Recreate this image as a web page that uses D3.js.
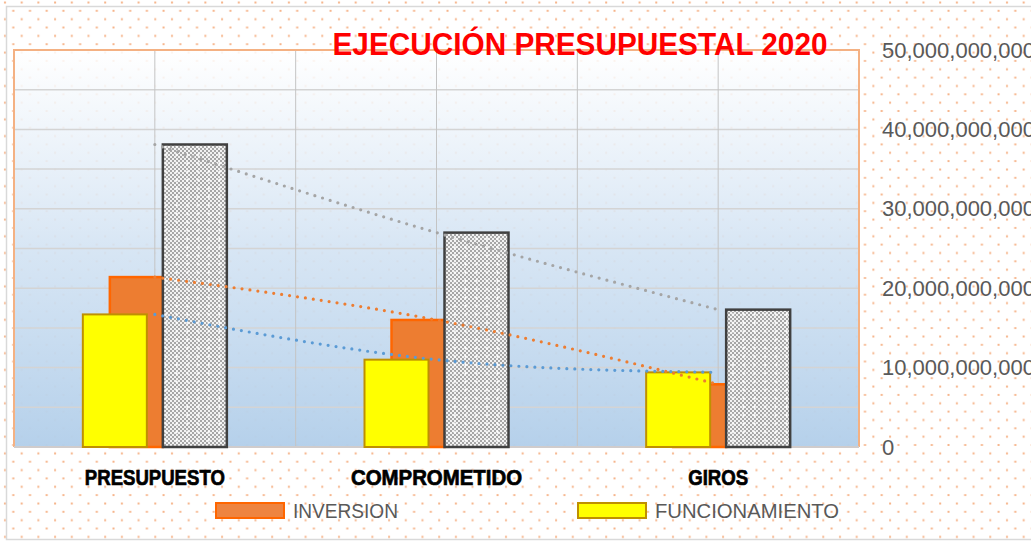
<!DOCTYPE html>
<html>
<head>
<meta charset="utf-8">
<script src="https://cdn.jsdelivr.net/npm/d3@7"></script>
<style>
body { margin: 0; background: #fff; }
svg { display: block; }
</style>
</head>
<body>
<svg width="1031" height="544"></svg>
<script>
var categories = ["PRESUPUESTO", "COMPROMETIDO", "GIROS"];
var funcionamiento = [16700000000, 11000000000, 9400000000];
var inversion = [21400000000, 16000000000, 7900000000];
var total = [38100000000, 27000000000, 17300000000];
var yTicks = [0, 10000000000, 20000000000, 30000000000, 40000000000, 50000000000];
var legendNames = ["INVERSION", "FUNCIONAMIENTO"];

var svg = d3.select("svg");
var defs = svg.append("defs");

// dotted background
var dots = defs.append("pattern").attr("id", "dots")
	.attr("patternUnits", "userSpaceOnUse")
	.attr("width", 16.7).attr("height", 16.7);
dots.append("rect").attr("x", 4).attr("y", 1.5).attr("width", 2).attr("height", 2).attr("fill", "#F6B48A");
dots.append("rect").attr("x", 12.3).attr("y", 9.8).attr("width", 2).attr("height", 2).attr("fill", "#F6B48A");

// checker for total bars
var checker = defs.append("pattern").attr("id", "checker")
	.attr("patternUnits", "userSpaceOnUse")
	.attr("width", 4).attr("height", 4);
checker.append("rect").attr("width", 4).attr("height", 4).attr("fill", "#f2f2f2");
checker.append("rect").attr("width", 2).attr("height", 2).attr("fill", "#a6a6a6");
checker.append("rect").attr("x", 2).attr("y", 2).attr("width", 2).attr("height", 2).attr("fill", "#a6a6a6");

var sparkle = defs.append("pattern").attr("id", "sparkle")
	.attr("patternUnits", "userSpaceOnUse")
	.attr("width", 10.7).attr("height", 8.4);
sparkle.append("rect").attr("x", 4).attr("y", 3.2).attr("width", 3).attr("height", 1).attr("fill", "#fff");
sparkle.append("rect").attr("x", 5).attr("y", 2.2).attr("width", 1).attr("height", 3).attr("fill", "#fff");

var grad = defs.append("linearGradient").attr("id", "plotbg")
	.attr("x1", 0).attr("y1", 0).attr("x2", 0).attr("y2", 1);
grad.append("stop").attr("offset", "0%").attr("stop-color", "#ffffff").attr("stop-opacity", 0.85);
grad.append("stop").attr("offset", "50%").attr("stop-color", "#d3e3f3").attr("stop-opacity", 0.9);
grad.append("stop").attr("offset", "100%").attr("stop-color", "#b3cfea").attr("stop-opacity", 0.97);

svg.append("rect").attr("width", 1031).attr("height", 544).attr("fill", "#fff");
svg.append("rect").attr("width", 1031).attr("height", 544).attr("fill", "url(#dots)");
svg.append("rect").attr("x", 6.5).attr("y", 6.5).attr("width", 1040).attr("height", 533)
	.attr("fill", "none").attr("stroke", "#d9d9d9").attr("stroke-width", 1.5);

var plotLeft = 14, plotRight = 859, plotTop = 50, plotBottom = 447;

var x = d3.scaleBand().domain(categories).range([plotLeft, plotRight]).padding(0);
var y = d3.scaleLinear().domain([0, 50000000000]).range([plotBottom, plotTop]);

svg.append("rect").attr("x", plotLeft).attr("y", plotTop)
	.attr("width", plotRight - plotLeft).attr("height", plotBottom - plotTop)
	.attr("fill", "url(#plotbg)");

// gridlines
var minor = d3.range(0, 50000000001, 5000000000);
svg.append("g").selectAll("line").data(minor).enter().append("line")
	.attr("x1", plotLeft).attr("x2", plotRight)
	.attr("y1", function(d){return y(d);}).attr("y2", function(d){return y(d);})
	.attr("stroke", "#d4d4d4").attr("stroke-width", 1.5);

var vLines = [];
categories.forEach(function(c){
	vLines.push(x(c));
	vLines.push(x(c) + x.bandwidth() / 2);
});
vLines.push(plotRight);
svg.append("g").selectAll("line").data(vLines).enter().append("line")
	.attr("x1", function(d){return d;}).attr("x2", function(d){return d;})
	.attr("y1", plotTop).attr("y2", plotBottom)
	.attr("stroke", "#c4c4c4").attr("stroke-width", 1);

// plot border
svg.append("path")
	.attr("d", "M" + plotLeft + "," + plotBottom + "V" + plotTop + "H" + plotRight + "V" + plotBottom)
	.attr("fill", "none").attr("stroke", "#F4B183").attr("stroke-width", 2);
svg.append("line").attr("x1", plotLeft).attr("x2", plotRight).attr("y1", plotBottom).attr("y2", plotBottom)
	.attr("stroke", "#d0cccc").attr("stroke-width", 2);

function cx(i){ return x(categories[i]) + x.bandwidth() / 2; }

// bars
var bars = svg.append("g");
bars.selectAll(".inv").data(inversion).enter().append("rect")
	.attr("x", function(d, i){return cx(i) - 45;})
	.attr("y", function(d){return y(d);})
	.attr("width", 53)
	.attr("height", function(d){return plotBottom - y(d);})
	.attr("fill", "#ED7D31").attr("stroke", "#FF6600").attr("stroke-width", 2.5);

bars.selectAll(".fun").data(funcionamiento).enter().append("rect")
	.attr("x", function(d, i){return cx(i) - 72;})
	.attr("y", function(d){return y(d);})
	.attr("width", 64)
	.attr("height", function(d){return plotBottom - y(d);})
	.attr("fill", "#FFFF00").attr("stroke", "#BF9000").attr("stroke-width", 2);

bars.selectAll(".tot").data(total).enter().append("rect")
	.attr("x", function(d, i){return cx(i) + 8;})
	.attr("y", function(d){return y(d);})
	.attr("width", 64)
	.attr("height", function(d){return plotBottom - y(d);})
	.attr("fill", "url(#checker)");
bars.selectAll(".tot2").data(total).enter().append("rect")
	.attr("x", function(d, i){return cx(i) + 8;})
	.attr("y", function(d){return y(d);})
	.attr("width", 64)
	.attr("height", function(d){return plotBottom - y(d);})
	.attr("fill", "url(#sparkle)")
	.attr("stroke", "#404040").attr("stroke-width", 2.5);

// trend lines
var line = d3.line()
	.x(function(d, i){return cx(i);})
	.y(function(d){return y(d);})
	.curve(d3.curveNatural);
var trends = [
	{values: total, color: "#A5A5A5"},
	{values: inversion, color: "#ED7D31"},
	{values: funcionamiento, color: "#5B9BD5"}
];
svg.append("g").selectAll("path").data(trends).enter().append("path")
	.attr("d", function(d){return line(d.values);})
	.attr("fill", "none")
	.attr("stroke", function(d){return d.color;})
	.attr("stroke-width", 3.2)
	.attr("stroke-linecap", "round")
	.attr("stroke-dasharray", "0 8");

// y axis on the right
var yAxis = svg.append("g")
	.attr("transform", "translate(870,0)")
	.call(d3.axisRight(y).tickValues(yTicks).tickFormat(d3.format(",")).tickSize(0).tickPadding(12));
yAxis.select(".domain").remove();
yAxis.selectAll("text")
	.attr("fill", "#595959")
	.style("font-family", "Liberation Sans, Arial, sans-serif")
	.style("font-size", "22px");

// category labels
var catWidths = [140, 171, 60];
svg.append("g").selectAll("text").data(categories).enter().append("text")
	.attr("x", function(d){return x(d) + x.bandwidth() / 2;})
	.attr("y", 485)
	.attr("text-anchor", "middle")
	.attr("textLength", function(d, i){return catWidths[i];})
	.attr("lengthAdjust", "spacingAndGlyphs")
	.style("font-family", "Liberation Sans, Arial, sans-serif")
	.style("font-weight", "bold")
	.style("font-size", "22px")
	.style("fill", "#000")
	.style("stroke", "#000")
	.style("stroke-width", "0.7px")
	.text(function(d){return d;});

// title
svg.append("text")
	.attr("x", 580).attr("y", 55)
	.attr("text-anchor", "middle")
	.attr("textLength", 495)
	.attr("lengthAdjust", "spacingAndGlyphs")
	.style("font-family", "Liberation Sans, Arial, sans-serif")
	.style("font-weight", "bold")
	.style("font-size", "32px")
	.style("fill", "#FF0000")
	.text("EJECUCIÓN PRESUPUESTAL 2020");

// legend
var legendItems = [
	{name: legendNames[0], x: 216, fill: "#EE8440", stroke: "#FF6600", tw: 105},
	{name: legendNames[1], x: 578, fill: "#FFFF00", stroke: "#BF9000", tw: 184}
];
var lg = svg.append("g").selectAll("g").data(legendItems).enter().append("g");
lg.append("rect")
	.attr("x", function(d){return d.x;}).attr("y", 503)
	.attr("width", 68).attr("height", 15)
	.attr("fill", function(d){return d.fill;})
	.attr("stroke", function(d){return d.stroke;}).attr("stroke-width", 2);
lg.append("text")
	.attr("x", function(d){return d.x + 77;}).attr("y", 518)
	.attr("textLength", function(d){return d.tw;})
	.attr("lengthAdjust", "spacingAndGlyphs")
	.style("font-family", "Liberation Sans, Arial, sans-serif")
	.style("font-size", "21px")
	.style("fill", "#595959")
	.text(function(d){return d.name;});
</script>
</body>
</html>
